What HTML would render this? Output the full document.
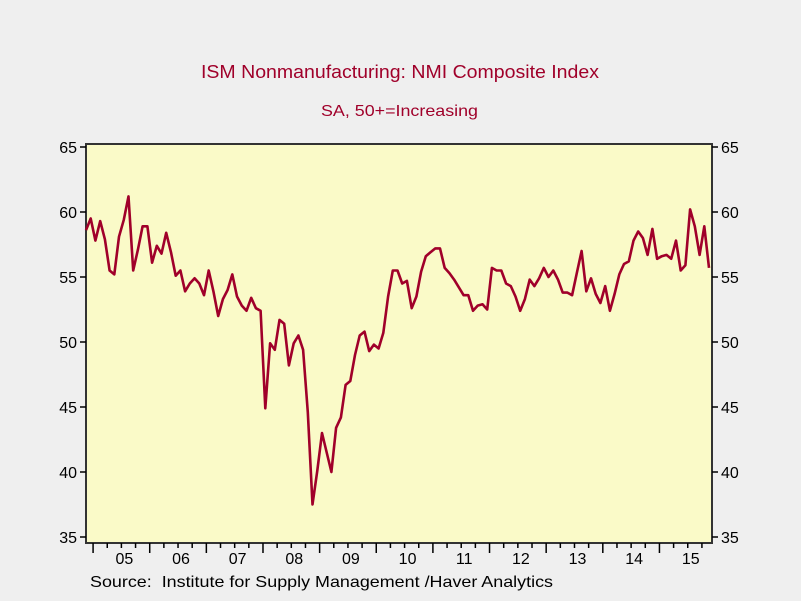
<!DOCTYPE html>
<html><head><meta charset="utf-8"><style>
body{margin:0;background:#efefef;}
svg{display:block;font-family:"Liberation Sans",sans-serif;}
</style></head><body>
<svg id="chart" width="801" height="601">
<rect x="0" y="0" width="801" height="601" fill="#efefef"/>
<text x="201" y="78" font-size="18" fill="#a0002a" textLength="398" lengthAdjust="spacingAndGlyphs">ISM Nonmanufacturing: NMI Composite Index</text>
<text x="321" y="116" font-size="16" fill="#a0002a" textLength="157" lengthAdjust="spacingAndGlyphs">SA, 50+=Increasing</text>
<rect x="86" y="144" width="626" height="399" fill="#fafac8" stroke="#333" stroke-width="2"/>
<g id="axes"></g>
<polyline id="line" fill="none" stroke="#a0002a" stroke-width="2.6" stroke-linejoin="round"/>
<text x="90" y="587" font-size="16" fill="#000" textLength="463" lengthAdjust="spacingAndGlyphs">Source:&#160; Institute for Supply Management /Haver Analytics</text>
</svg>
<script>
const values=[58.6,59.5,57.8,59.3,57.9,55.5,55.2,58.1,59.4,61.2,55.5,57.1,58.9,58.9,56.1,57.4,56.8,58.4,56.9,55.1,55.5,53.9,54.5,54.9,54.5,53.6,55.5,53.9,52.0,53.3,54.0,55.2,53.5,52.8,52.4,53.4,52.6,52.4,44.9,49.9,49.4,51.7,51.4,48.2,49.9,50.5,49.4,44.6,37.5,40.1,43.0,41.5,40.0,43.4,44.2,46.7,47.0,49.0,50.5,50.8,49.3,49.8,49.5,50.7,53.5,55.5,55.5,54.5,54.7,52.6,53.5,55.4,56.6,56.9,57.2,57.2,55.7,55.3,54.8,54.2,53.6,53.6,52.4,52.8,52.9,52.5,55.7,55.5,55.5,54.5,54.3,53.5,52.4,53.3,54.8,54.3,54.9,55.7,55.0,55.5,54.8,53.8,53.8,53.6,55.3,57.0,53.9,54.9,53.7,53.0,54.3,52.4,53.7,55.2,56.0,56.2,57.8,58.5,58.0,56.7,58.7,56.4,56.6,56.7,56.4,57.8,55.5,55.9,60.2,58.9,56.7,58.9,55.7];
const yTicks=[35,40,45,50,55,60,65];
const yearLabels=["05","06","07","08","09","10","11","12","13","14","15"];
const NS="http://www.w3.org/2000/svg";
const x0=86,dx=(709-86)/(values.length-1);
function xs(i){return x0+i*dx;}
function ys(v){return 147+(65-v)*13;}
document.getElementById('line').setAttribute('points',values.map((v,i)=>xs(i).toFixed(1)+','+ys(v).toFixed(1)).join(' '));
const g=document.getElementById('axes');
function ln(x1,y1,x2,y2,name){const l=document.createElementNS(NS,'line');l.setAttribute('x1',x1);l.setAttribute('y1',y1);l.setAttribute('x2',x2);l.setAttribute('y2',y2);l.setAttribute('stroke','#000');l.setAttribute('stroke-width','1.5');


g.appendChild(l);}
function tx(x,y,s,anchor,name){const t=document.createElementNS(NS,'text');t.setAttribute('x',x);t.setAttribute('y',y);t.setAttribute('text-anchor',anchor);t.setAttribute('font-size','16');t.textContent=s;


g.appendChild(t);}
yTicks.forEach(v=>{const y=ys(v);ln(80,y,86,y,'y-tick-left');ln(712,y,718,y,'y-tick-right');tx(77,y+6,v,'end','y-tick-label-left');tx(721,y+6,v,'start','y-tick-label-right');});
for(let k=0;k<=11;k++){for(let q=0;q<4;q++){const i=1.5+12*k+3*q;if(i>values.length)continue;const x=xs(i);ln(x,543,x,q===0?553:548,q===0?'x-year-tick':'x-quarter-tick');}}
yearLabels.forEach((s,k)=>{tx((xs(1.5+12*k)+xs(13.5+12*k))/2+3,564,s,'middle','x-year-label');});
</script>
</body></html>
